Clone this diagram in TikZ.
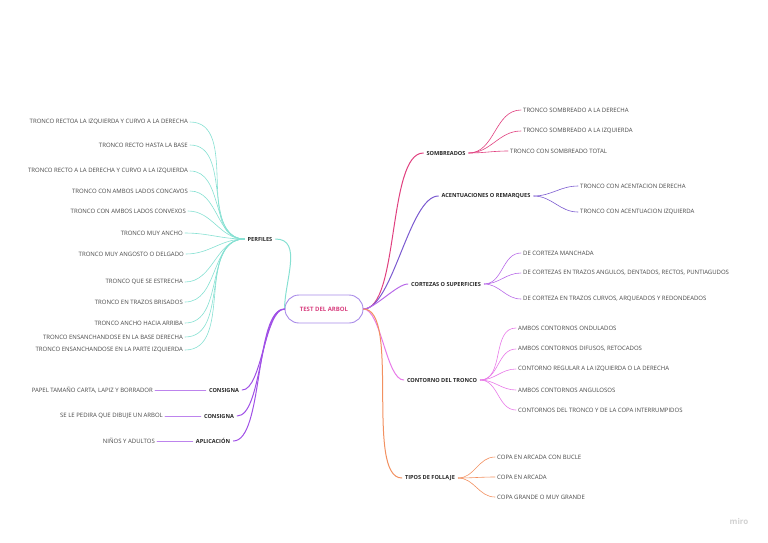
\documentclass[tikz,border=0pt]{standalone}
\usepackage{fontspec}
\setmainfont{Open Sans}
\usepackage{xcolor}
\usepackage{tikz}
\definecolor{mmteal}{HTML}{86E0D2}
\definecolor{mmviolet}{HTML}{A050E6}
\definecolor{mmmagenta}{HTML}{E0407F}
\definecolor{mmindigo}{HTML}{7B5AD0}
\definecolor{mmlilac}{HTML}{B86AE8}
\definecolor{mmorchid}{HTML}{E87AE8}
\definecolor{mmorange}{HTML}{F29060}
\definecolor{mmrootline}{HTML}{A88AE8}
\definecolor{mmroottext}{HTML}{D8407F}
\tikzset{
  mmleaf/.style={font=\fontsize{6}{7}\selectfont, text=black!72, inner sep=2pt},
  mmbranch/.style={font=\bfseries\fontsize{5.6}{6}\selectfont, text=black!85, inner sep=3pt},
  mmroot/.style={draw=mmrootline, line width=0.9pt, rounded corners=14pt, minimum width=78pt,
    minimum height=28pt, inner sep=0pt, text=mmroottext, font=\bfseries\fontsize{6}{7}\selectfont},
  mmtrunk/.style={line width=1pt, line cap=round},
  mmtwig/.style={line width=0.6pt, line cap=round},
  mmright/.style={out=0, in=180},
  mmleft/.style={out=180, in=0},
  mmsoft/.style={looseness=0.55},
}

\begin{document}
\begin{tikzpicture}[x=1pt, y=-1pt]
\useasboundingbox (0,0) rectangle (768,542);
\node[mmroot] (root) at (324,309) {TEST DEL ARBOL};

% izquierda
\node[mmbranch] (perfiles) at (260,239) {PERFILES};
\node[mmbranch] (consignaa) at (224,390) {CONSIGNA};
\node[mmbranch] (consignab) at (219,416) {CONSIGNA};
\node[mmbranch] (aplicacion) at (213,441) {APLICACIÓN};

\node[mmleaf, anchor=east] (pa) at (190,122) {TRONCO RECTOA LA IZQUIERDA Y CURVO A LA DERECHA};
\node[mmleaf, anchor=east] (pb) at (190,145) {TRONCO RECTO HASTA LA BASE};
\node[mmleaf, anchor=east] (pc) at (190,171) {TRONCO RECTO A LA DERECHA Y CURVO A LA IZQUIERDA};
\node[mmleaf, anchor=east] (pd) at (190,191) {TRONCO CON AMBOS LADOS CONCAVOS};
\node[mmleaf, anchor=east] (pe) at (188,211) {TRONCO CON AMBOS LADOS CONVEXOS};
\node[mmleaf, anchor=east] (pf) at (185,233) {TRONCO MUY ANCHO};
\node[mmleaf, anchor=east] (pg) at (186,254) {TRONCO MUY ANGOSTO O DELGADO};
\node[mmleaf, anchor=east] (ph) at (185,282) {TRONCO QUE SE ESTRECHA};
\node[mmleaf, anchor=east] (pi) at (185,302) {TRONCO EN TRAZOS BRISADOS};
\node[mmleaf, anchor=east] (pj) at (185,323) {TRONCO ANCHO HACIA ARRIBA};
\node[mmleaf, anchor=east] (pk) at (185,337) {TRONCO ENSANCHANDOSE EN LA BASE DERECHA};
\node[mmleaf, anchor=east] (pl) at (185,350) {TRONCO ENSANCHANDOSE EN LA PARTE IZQUIERDA};

\node[mmleaf, anchor=east] (ca) at (155,390) {PAPEL TAMAÑO CARTA, LAPIZ Y BORRADOR};
\node[mmleaf, anchor=east] (cb) at (165,416) {SE LE PEDIRA QUE DIBUJE UN ARBOL};
\node[mmleaf, anchor=east] (aa) at (157,441) {NIÑOS Y ADULTOS};

% derecha
\node[mmbranch] (sombreados) at (446,153) {SOMBREADOS};
\node[mmbranch] (acentuaciones) at (486,196) {ACENTUACIONES O REMARQUES};
\node[mmbranch] (cortezas) at (446,284) {CORTEZAS O SUPERFICIES};
\node[mmbranch] (contorno) at (442,380) {CONTORNO DEL TRONCO};
\node[mmbranch] (follaje) at (430,478) {TIPOS DE FOLLAJE};

\node[mmleaf, anchor=west] (sa) at (521,110) {TRONCO SOMBREADO A LA DERECHA};
\node[mmleaf, anchor=west] (sb) at (521,131) {TRONCO SOMBREADO A LA IZQUIERDA};
\node[mmleaf, anchor=west] (sc) at (508,151) {TRONCO CON SOMBREADO TOTAL};
\node[mmleaf, anchor=west] (ra) at (578,186) {TRONCO CON ACENTACION DERECHA};
\node[mmleaf, anchor=west] (rb) at (578,212) {TRONCO CON ACENTUACION IZQUIERDA};
\node[mmleaf, anchor=west] (ka) at (521,253) {DE CORTEZA MANCHADA};
\node[mmleaf, anchor=west] (kb) at (521,273) {DE CORTEZAS EN TRAZOS ANGULOS, DENTADOS, RECTOS, PUNTIAGUDOS};
\node[mmleaf, anchor=west] (kc) at (521,299) {DE CORTEZA EN TRAZOS CURVOS, ARQUEADOS Y REDONDEADOS};
\node[mmleaf, anchor=west] (ta) at (516,328) {AMBOS CONTORNOS ONDULADOS};
\node[mmleaf, anchor=west] (tb) at (516,349) {AMBOS CONTORNOS DIFUSOS, RETOCADOS};
\node[mmleaf, anchor=west] (tc) at (516,369) {CONTORNO REGULAR A LA IZQUIERDA O LA DERECHA};
\node[mmleaf, anchor=west] (td) at (516,390) {AMBOS CONTORNOS ANGULOSOS};
\node[mmleaf, anchor=west] (te) at (516,410) {CONTORNOS DEL TRONCO Y DE LA COPA INTERRUMPIDOS};
\node[mmleaf, anchor=west] (fa) at (495,457) {COPA EN ARCADA CON BUCLE};
\node[mmleaf, anchor=west] (fb) at (495,477) {COPA EN ARCADA};
\node[mmleaf, anchor=west] (fc) at (495,497) {COPA GRANDE O MUY GRANDE};

\node[font=\bfseries\fontsize{8}{9}\selectfont, text=black!18] (marca) at (739,521) {miro};

% ramas
\draw[mmtrunk, draw=mmteal] (root.west) to[out=90, in=0] (perfiles.east);
\draw[mmtrunk, draw=mmviolet] (root.west) to[mmleft, mmsoft] (consignaa.east);
\draw[mmtrunk, draw=mmviolet] (root.west) to[mmleft, mmsoft] (consignab.east);
\draw[mmtrunk, draw=mmviolet] (root.west) to[mmleft, mmsoft] (aplicacion.east);
\draw[mmtrunk, draw=mmmagenta] (root.east) to[mmright, mmsoft] (sombreados.west);
\draw[mmtrunk, draw=mmindigo] (root.east) to[mmright, mmsoft] (acentuaciones.west);
\draw[mmtrunk, draw=mmlilac] (root.east) to[mmright, mmsoft] (cortezas.west);
\draw[mmtrunk, draw=mmorchid] (root.east) to[mmright, mmsoft] (contorno.west);
\draw[mmtrunk, draw=mmorange] (root.east) to[mmright, mmsoft] (follaje.west);

% hojas
\draw[mmtwig, draw=mmteal] (pa.east) to[mmright] (perfiles.west);
\draw[mmtwig, draw=mmteal] (pb.east) to[mmright] (perfiles.west);
\draw[mmtwig, draw=mmteal] (pc.east) to[mmright] (perfiles.west);
\draw[mmtwig, draw=mmteal] (pd.east) to[mmright] (perfiles.west);
\draw[mmtwig, draw=mmteal] (pe.east) to[mmright] (perfiles.west);
\draw[mmtwig, draw=mmteal] (pf.east) to[mmright] (perfiles.west);
\draw[mmtwig, draw=mmteal] (pg.east) to[mmright] (perfiles.west);
\draw[mmtwig, draw=mmteal] (ph.east) to[mmright] (perfiles.west);
\draw[mmtwig, draw=mmteal] (pi.east) to[mmright] (perfiles.west);
\draw[mmtwig, draw=mmteal] (pj.east) to[mmright] (perfiles.west);
\draw[mmtwig, draw=mmteal] (pk.east) to[mmright] (perfiles.west);
\draw[mmtwig, draw=mmteal] (pl.east) to[mmright] (perfiles.west);
\draw[mmtwig, draw=mmviolet!70] (ca.east) -- (consignaa.west);
\draw[mmtwig, draw=mmviolet!70] (cb.east) -- (consignab.west);
\draw[mmtwig, draw=mmviolet!70] (aa.east) -- (aplicacion.west);
\draw[mmtwig, draw=mmmagenta] (sombreados.east) to[mmright] (sa.west);
\draw[mmtwig, draw=mmmagenta] (sombreados.east) to[mmright] (sb.west);
\draw[mmtwig, draw=mmmagenta] (sombreados.east) to[mmright] (sc.west);
\draw[mmtwig, draw=mmindigo] (acentuaciones.east) to[mmright] (ra.west);
\draw[mmtwig, draw=mmindigo] (acentuaciones.east) to[mmright] (rb.west);
\draw[mmtwig, draw=mmlilac] (cortezas.east) to[mmright] (ka.west);
\draw[mmtwig, draw=mmlilac] (cortezas.east) to[mmright] (kb.west);
\draw[mmtwig, draw=mmlilac] (cortezas.east) to[mmright] (kc.west);
\draw[mmtwig, draw=mmorchid] (contorno.east) to[mmright] (ta.west);
\draw[mmtwig, draw=mmorchid] (contorno.east) to[mmright] (tb.west);
\draw[mmtwig, draw=mmorchid] (contorno.east) to[mmright] (tc.west);
\draw[mmtwig, draw=mmorchid] (contorno.east) to[mmright] (td.west);
\draw[mmtwig, draw=mmorchid] (contorno.east) to[mmright] (te.west);
\draw[mmtwig, draw=mmorange] (follaje.east) to[mmright] (fa.west);
\draw[mmtwig, draw=mmorange] (follaje.east) to[mmright] (fb.west);
\draw[mmtwig, draw=mmorange] (follaje.east) to[mmright] (fc.west);
\end{tikzpicture}
\end{document}
